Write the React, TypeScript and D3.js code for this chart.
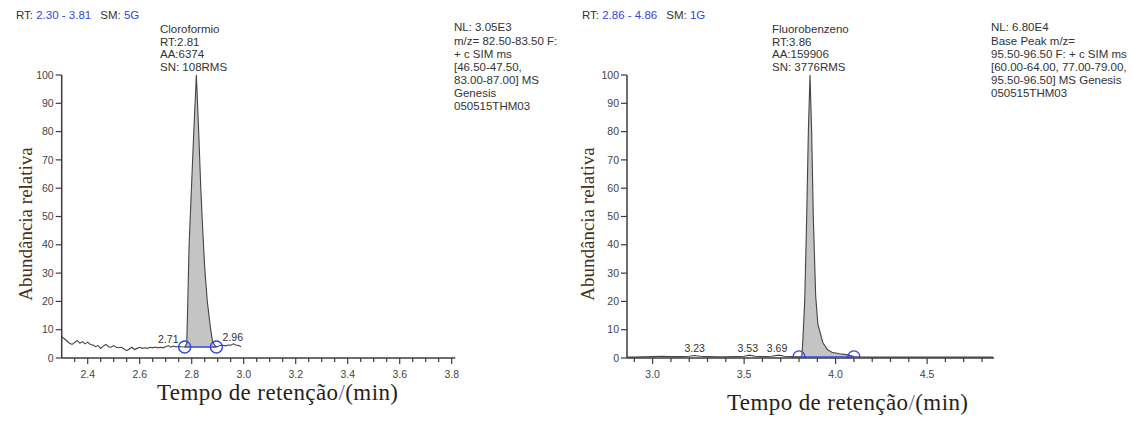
import React from 'react';
import * as d3 from 'd3';

// ---------- Data ----------
const cloroTime = [2.30,2.31,2.32,2.33,2.34,2.35,2.36,2.37,2.38,2.39,2.40,2.41,2.42,2.43,2.44,2.45,2.46,2.47,2.48,2.49,2.50,2.51,2.52,2.53,2.54,2.55,2.56,2.57,2.58,2.59,2.60,2.61,2.62,2.63,2.64,2.65,2.66,2.67,2.68,2.69,2.70,2.71,2.72,2.73,2.74,2.75,2.76,2.773,2.781,2.785,2.790,2.799,2.809,2.818,2.826,2.835,2.842,2.850,2.860,2.873,2.880,2.888,2.895,2.91,2.92,2.93,2.94,2.95,2.96,2.97,2.98,2.99];
const cloroIntensity = [7.5,6.8,6.0,5.2,4.8,5.5,6.2,5.2,5.8,5.0,5.6,4.8,4.6,4.0,4.4,3.4,4.2,4.8,4.0,3.8,4.4,3.8,3.6,3.8,3.2,2.6,3.2,3.8,3.0,3.4,3.8,3.4,3.6,3.4,3.8,3.6,3.9,3.6,3.8,3.6,4.0,4.4,3.8,4.2,3.9,4.1,4.0,3.9,5,20,40,60,82,100,82,60,46,32,20,10,6,4.5,3.9,4.4,4.5,4.3,4.6,4.5,5.0,4.6,4.4,4.0];
const cloroPeakStart = 2.773;
const cloroPeakEnd = 2.895;
const cloroBaseline = 3.9;
const cloroMinorLabels = [{ t: 2.71, v: 4.4, label: '2.71' }, { t: 2.958, v: 5.0, label: '2.96' }];

const fluoroTime = [2.86,2.90,2.95,3.00,3.05,3.10,3.15,3.20,3.23,3.26,3.30,3.35,3.40,3.45,3.50,3.53,3.56,3.60,3.65,3.69,3.72,3.76,3.80,3.815,3.820,3.831,3.842,3.851,3.860,3.869,3.878,3.891,3.903,3.930,3.955,3.980,4.020,4.060,4.100,4.13,4.20,4.30,4.40,4.50,4.60,4.70,4.80,4.86];
const fluoroIntensity = [0.3,0.3,0.4,0.5,0.6,0.5,0.5,0.6,0.9,0.6,0.5,0.4,0.4,0.5,0.6,1.0,0.6,0.5,0.6,1.0,0.6,0.5,0.4,0.5,5,20,50,80,100,80,50,22,12,5.5,3,2,1.5,1.2,0.5,0.4,0.3,0.3,0.3,0.3,0.3,0.3,0.3,0.3];
const fluoroPeakStart = 3.80;
const fluoroPeakEnd = 4.10;
const fluoroBaseline = 0.4;
const fluoroMinorLabels = [{ t: 3.23, v: 0.9, label: '3.23' }, { t: 3.52, v: 1.0, label: '3.53' }, { t: 3.68, v: 1.0, label: '3.69' }];

const yTicks = [0, 10, 20, 30, 40, 50, 60, 70, 80, 90, 100];
const cloroXTicks = [2.4, 2.6, 2.8, 3.0, 3.2, 3.4, 3.6, 3.8];
const fluoroXTicks = [3.0, 3.5, 4.0, 4.5];

const cloroHeader = { rt: '2.30 - 3.81', sm: '5G' };
const fluoroHeader = { rt: '2.86 - 4.86', sm: '1G' };
const cloroPeakInfo = ['Cloroformio', 'RT:2.81', 'AA:6374', 'SN: 108RMS'];
const fluoroPeakInfo = ['Fluorobenzeno', 'RT:3.86', 'AA:159906', 'SN: 3776RMS'];
const cloroNL = ['NL: 3.05E3', 'm/z= 82.50-83.50 F:', '+ c SIM ms', '[46.50-47.50,', '83.00-87.00]  MS', 'Genesis', '050515THM03'];
const fluoroNL = ['NL: 6.80E4', 'Base Peak m/z=', '95.50-96.50 F: + c SIM ms', '[60.00-64.00, 77.00-79.00,', '95.50-96.50]  MS  Genesis', '050515THM03'];

const yTitle = 'Abundância relativa';
const xTitleMain = 'Tempo de retenção';
const xTitleUnit = '(min)';

const SANS = '"Liberation Sans", Arial, sans-serif';
const SERIF = '"Liberation Serif", "Times New Roman", serif';
const BLUE = '#3346e0';

type PanelProps = {
  id: string;
  time: number[];
  intensity: number[];
  domain: [number, number];
  xRange: [number, number];
  majorTicks: number[];
  minorStep: number;
  peakStart: number;
  peakEnd: number;
  baseline: number;
  minorLabels: { t: number; v: number; label: string }[];
  header: { rt: string; sm: string };
  headerX: number;
  peakInfo: string[];
  peakInfoX: number;
  nl: string[];
  nlX: number;
  yTitleX: number;
  xTitleX: number;
  xTitleY: number;
  clipMarkers: boolean;
  tickFormat: (v: number) => string;
};

function Panel(p: PanelProps) {
  const x = d3.scaleLinear().domain(p.domain).range(p.xRange);
  const y = d3.scaleLinear().domain([0, 100]).range([358, 75]);
  const pts = p.time.map((t, i) => [t, p.intensity[i]] as [number, number]);
  const line = d3.line<[number, number]>().x(d => x(d[0])).y(d => y(d[1]));
  const peakPts = pts.filter(d => d[0] >= p.peakStart - 1e-9 && d[0] <= p.peakEnd + 1e-9);
  const area = d3.area<[number, number]>().x(d => x(d[0])).y0(() => y(p.baseline)).y1(d => y(Math.max(d[1], p.baseline)));
  const x0 = p.xRange[0];
  const xEnd = x(p.domain[1]) + 1;
  const first = Math.ceil((p.domain[0] + 1e-9) / p.minorStep) * p.minorStep;
  const minor = d3.range(first, p.domain[1], p.minorStep).filter(v => !p.majorTicks.some(m => Math.abs(m - v) < 1e-6));
  const axisColor = '#3c3c3c';
  const textColor = '#333';
  return (
    <g>
      <defs>
        <clipPath id={`clip-${p.id}`}>
          <rect x={x0 - 20} y={0} width={xEnd - x0 + 40} height={y(0)} />
        </clipPath>
      </defs>
      {/* header */}
      <text x={p.headerX} y={19} fontFamily={SANS} fontSize={11.5} fill={textColor}>
        <tspan>RT: </tspan>
        <tspan fill={BLUE}>{p.header.rt}</tspan>
        <tspan dx={9}>SM: </tspan>
        <tspan fill={BLUE}>{p.header.sm}</tspan>
      </text>
      {p.peakInfo.map((s, i) => (
        <text key={i} x={p.peakInfoX} y={33 + i * 12.6} fontFamily={SANS} fontSize={11.5} fill={textColor}>{s}</text>
      ))}
      {p.nl.map((s, i) => (
        <text key={i} x={p.nlX} y={i === 0 ? 31 : 32 + i * 13} fontFamily={SANS} fontSize={11.5} fill={textColor}>{s}</text>
      ))}
      {/* peak area */}
      <path d={area(peakPts) || ''} fill="#c4c4c4" stroke="none" />
      {/* trace */}
      <path d={line(pts) || ''} fill="none" stroke="#444" strokeWidth={1.1} />
      {/* integration baseline */}
      <line x1={x(p.peakStart)} x2={x(p.peakEnd)} y1={y(p.baseline)} y2={y(p.baseline)} stroke={BLUE} strokeWidth={1.4} />
      <g clipPath={p.clipMarkers ? `url(#clip-${p.id})` : undefined}>
        {[p.peakStart, p.peakEnd].map((t, i) => (
          <circle key={i} cx={x(t)} cy={y(p.baseline)} r={6} fill="none" stroke={BLUE} strokeWidth={1.4} />
        ))}
      </g>
      {/* minor peak labels */}
      {p.minorLabels.map((m, i) => (
        <text key={i} x={x(m.t)} y={y(m.v) - 3} textAnchor="middle" fontFamily={SANS} fontSize={10.5} fill={textColor}>{m.label}</text>
      ))}
      {/* y axis */}
      <line x1={x0} x2={x0} y1={y(100)} y2={y(0)} stroke={axisColor} strokeWidth={1.5} />
      {yTicks.map(v => (
        <g key={v}>
          <line x1={x0 - 6} x2={x0} y1={y(v)} y2={y(v)} stroke={axisColor} strokeWidth={1.2} />
          <text x={x0 - 8} y={y(v)} dy="0.35em" textAnchor="end" fontFamily={SANS} fontSize={10.5} fill="#444">{v}</text>
        </g>
      ))}
      {/* x axis */}
      <line x1={x0} x2={xEnd} y1={y(0)} y2={y(0)} stroke={axisColor} strokeWidth={1.5} />
      {minor.map((v, i) => (
        <line key={i} x1={x(v)} x2={x(v)} y1={y(0)} y2={y(0) + 4} stroke={axisColor} strokeWidth={1.2} />
      ))}
      {p.majorTicks.map(v => (
        <g key={v}>
          <line x1={x(v)} x2={x(v)} y1={y(0)} y2={y(0) + 6} stroke={axisColor} strokeWidth={1.2} />
          <text x={x(v)} y={378} textAnchor="middle" fontFamily={SANS} fontSize={10.5} fill="#444">{p.tickFormat(v)}</text>
        </g>
      ))}
      {/* titles */}
      <text transform={`translate(${p.yTitleX},224) rotate(-90)`} textAnchor="middle" dominantBaseline="central" fontFamily={SERIF} fontSize={19} fill="#4a2f1a">{yTitle}</text>
      <text x={p.xTitleX} y={p.xTitleY} fontFamily={SERIF} fontSize={23} fill="#2a1e16" textLength={241} lengthAdjust="spacing">
        <tspan>{xTitleMain}</tspan>
        <tspan fill="#6a6a8a">/</tspan>
        <tspan>{xTitleUnit}</tspan>
      </text>
    </g>
  );
}

export default function App() {
  const fmt = d3.format('.1f');
  return (
    <svg width={1137} height={421} style={{ position: 'absolute', left: 0, top: 0, background: '#fff' }}>
      <rect width={1137} height={421} fill="#fff" />
      <Panel
        id="cloro"
        time={cloroTime}
        intensity={cloroIntensity}
        domain={[2.30, 3.81]}
        xRange={[61.7, 61.7 + 1.51 * 260]}
        majorTicks={cloroXTicks}
        minorStep={0.05}
        peakStart={cloroPeakStart}
        peakEnd={cloroPeakEnd}
        baseline={cloroBaseline}
        minorLabels={cloroMinorLabels}
        header={cloroHeader}
        headerX={16}
        peakInfo={cloroPeakInfo}
        peakInfoX={160}
        nl={cloroNL}
        nlX={454}
        yTitleX={25}
        xTitleX={157}
        xTitleY={400}
        clipMarkers={false}
        tickFormat={fmt}
      />
      <Panel
        id="fluoro"
        time={fluoroTime}
        intensity={fluoroIntensity}
        domain={[2.86, 4.86]}
        xRange={[627, 627 + 2 * 183]}
        majorTicks={fluoroXTicks}
        minorStep={0.1}
        peakStart={fluoroPeakStart}
        peakEnd={fluoroPeakEnd}
        baseline={fluoroBaseline}
        minorLabels={fluoroMinorLabels}
        header={fluoroHeader}
        headerX={582}
        peakInfo={fluoroPeakInfo}
        peakInfoX={772}
        nl={fluoroNL}
        nlX={991}
        yTitleX={587}
        xTitleX={727}
        xTitleY={410}
        clipMarkers={true}
        tickFormat={fmt}
      />
    </svg>
  );
}
